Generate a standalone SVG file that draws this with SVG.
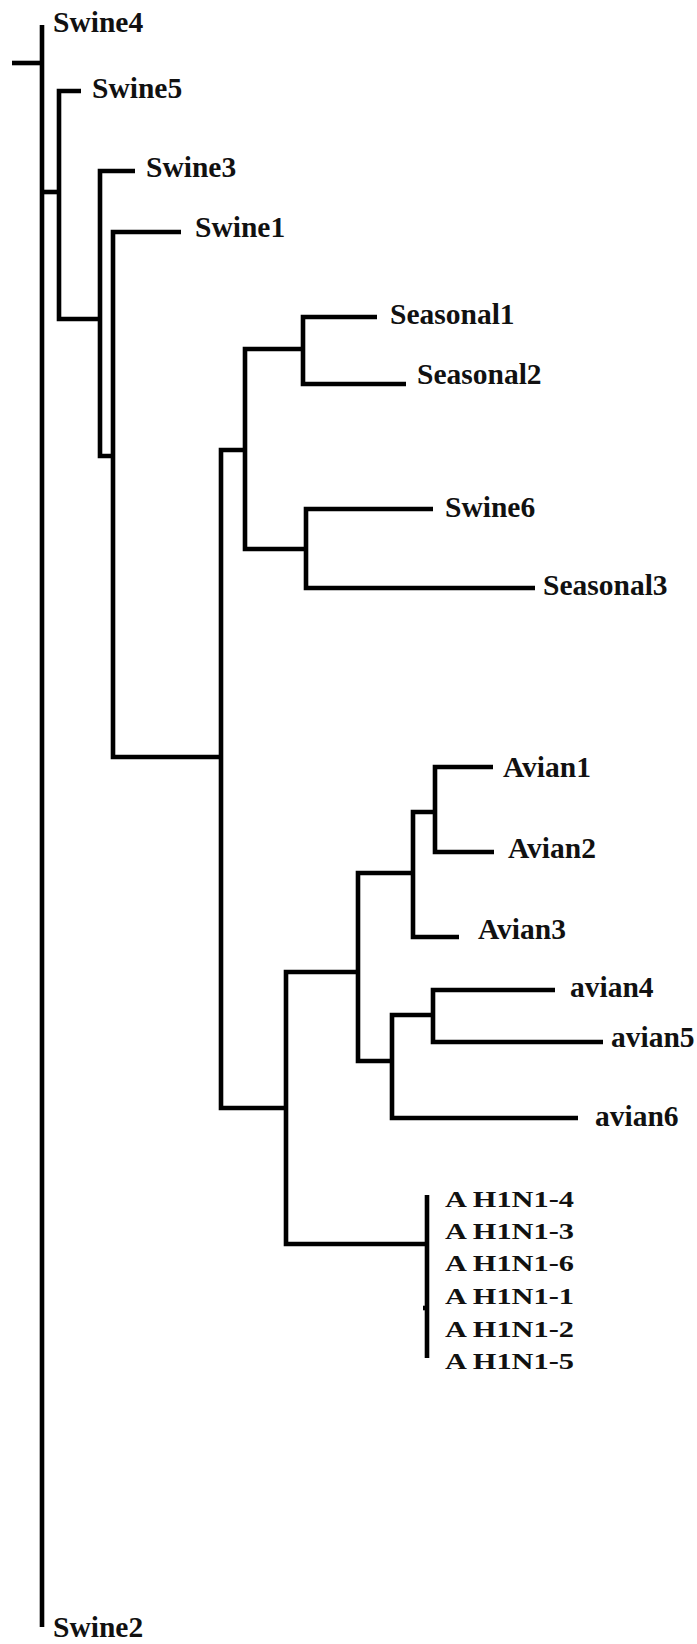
<svg xmlns="http://www.w3.org/2000/svg" width="697" height="1644" viewBox="0 0 697 1644">
<style>
.br{fill:none;stroke:#000;stroke-width:4.6;stroke-linejoin:miter;stroke-linecap:butt}
.lb{font-family:"Liberation Serif","Times New Roman",serif;font-weight:bold;font-size:29.5px;fill:#111}
.hl{font-family:"Liberation Serif","Times New Roman",serif;font-weight:bold;font-size:24px;fill:#111}
</style>
<rect width="697" height="1644" fill="#fff"/>
<g id="connectors">
<path class="br" d="M12,63 H42"/>
<path class="br" d="M42,25 V1627"/>
<path class="br" d="M42,192 H59"/>
<path class="br" d="M81,91 H59 V319 H100"/>
<path class="br" d="M135,171 H100 V456 H113"/>
<path class="br" d="M181,232 H113 V757 H221"/>
<path class="br" d="M243,450 H221 V1108 H286"/>
<path class="br" d="M302,349 H245 V549 H306"/>
<path class="br" d="M377,317 H303 V384 H406"/>
<path class="br" d="M433,509 H306 V588 H535"/>
<path class="br" d="M357,972 H286 V1244 H425"/>
<path class="br" d="M411,873 H358 V1061 H392"/>
<path class="br" d="M433,812 H413 V937 H459"/>
<path class="br" d="M493,767 H435 V852 H494"/>
<path class="br" d="M432,1015 H392 V1118 H578"/>
<path class="br" d="M555,990 H433 V1042 H603"/>
<path class="br" d="M427,1195 V1358"/>
<path class="br" d="M423,1308 H427"/>
</g>
<g id="swine4"><text class="lb" x="53" y="32">Swine4</text></g>
<g id="swine5"><text class="lb" x="92" y="98">Swine5</text></g>
<g id="swine3"><text class="lb" x="146" y="177">Swine3</text></g>
<g id="swine1"><text class="lb" x="195" y="237">Swine1</text></g>
<g id="seasonal1"><text class="lb" x="390" y="324">Seasonal1</text></g>
<g id="seasonal2"><text class="lb" x="417" y="384">Seasonal2</text></g>
<g id="swine6"><text class="lb" x="445" y="517">Swine6</text></g>
<g id="seasonal3"><text class="lb" x="543" y="595">Seasonal3</text></g>
<g id="avian1"><text class="lb" x="503" y="777">Avian1</text></g>
<g id="avian2"><text class="lb" x="508" y="858">Avian2</text></g>
<g id="avian3"><text class="lb" x="478" y="939">Avian3</text></g>
<g id="avian4"><text class="lb" x="570" y="997">avian4</text></g>
<g id="avian5"><text class="lb" x="611" y="1047">avian5</text></g>
<g id="avian6"><text class="lb" x="595" y="1126">avian6</text></g>
<g id="h1n1-4"><text class="hl" x="445" y="1207" textLength="129" lengthAdjust="spacingAndGlyphs">A H1N1-4</text></g>
<g id="h1n1-3"><text class="hl" x="445" y="1239" textLength="129" lengthAdjust="spacingAndGlyphs">A H1N1-3</text></g>
<g id="h1n1-6"><text class="hl" x="445" y="1271" textLength="129" lengthAdjust="spacingAndGlyphs">A H1N1-6</text></g>
<g id="h1n1-1"><text class="hl" x="445" y="1304" textLength="129" lengthAdjust="spacingAndGlyphs">A H1N1-1</text></g>
<g id="h1n1-2"><text class="hl" x="445" y="1337" textLength="129" lengthAdjust="spacingAndGlyphs">A H1N1-2</text></g>
<g id="h1n1-5"><text class="hl" x="445" y="1369" textLength="129" lengthAdjust="spacingAndGlyphs">A H1N1-5</text></g>
<g id="swine2"><text class="lb" x="53" y="1637">Swine2</text></g>
</svg>
